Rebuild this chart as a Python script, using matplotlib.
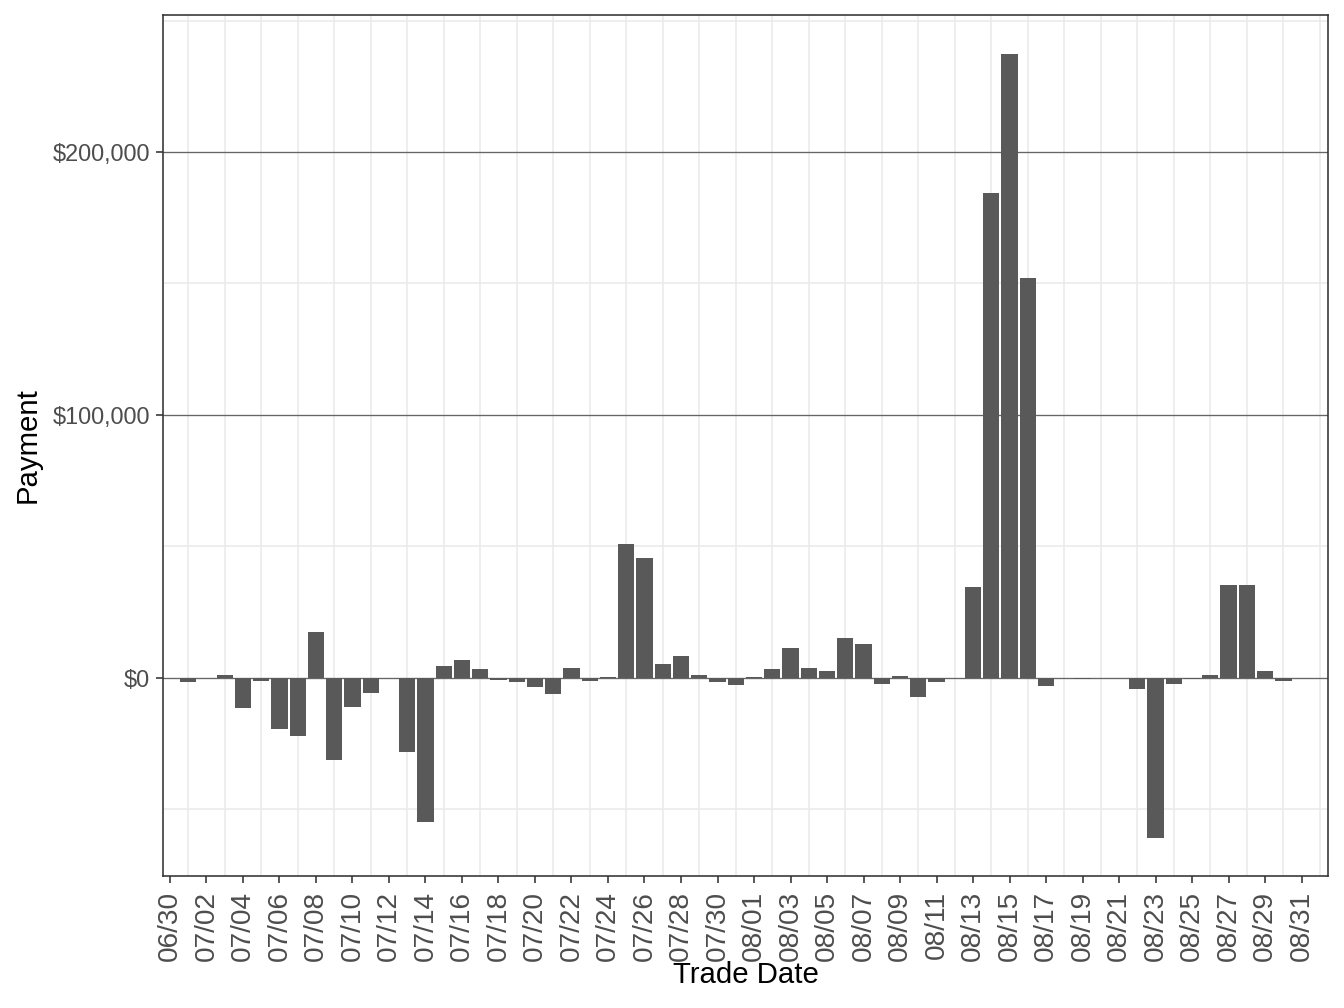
import numpy as np
import pandas as pd
import matplotlib
matplotlib.use('Agg')
import matplotlib.pyplot as plt
import matplotlib.dates as mdates
from matplotlib.ticker import FuncFormatter, FixedLocator

plt.rcParams['font.family'] = ['Liberation Sans', 'DejaVu Sans']

# daily payment values, 07/01 .. 08/31
trade_dates = pd.date_range("2019-07-01", "2019-08-31", freq="D")
payments = [
    -1650, 0, 1270, -11500, -1270, -19500, -22200, 17600, -31300, -11200,
    -5800, -200, -28300, -54900, 4700, 7000, 3550, -900, -1650, -3550,
    -6200, 3930, -1000, 200, 50950, 45600, 5300, 8400, 1140, -1520,
    -2660, 500, 3420, 11400, 3800, 2660, 15200, 12900, -2150, 760,
    -7100, -1400, 0, 34600, 184400, 237300, 152100, -3040, 0, -300,
    0, 0, -4050, -60700, -2150, -300, 1140, 35400, 35400, 2660,
    -1000, -200,
]
y_major = [0, 100000, 200000]
y_minor = [-50000, 50000, 150000, 250000]

start = pd.Timestamp("2019-06-30")
tick_dates = pd.date_range(start, "2019-08-31", freq="2D")
grid_dates = pd.date_range("2019-07-01", "2019-09-01", freq="2D")

fig = plt.figure(figsize=(7, 5.25), dpi=192)
ax = fig.add_axes([0.1213, 0.131, 0.8668, 0.8541])

x = mdates.date2num(trade_dates)
for g in mdates.date2num(grid_dates):
    ax.axvline(g, color='#EBEBEB', lw=0.6, zorder=0)
for m in y_minor:
    ax.axhline(m, color='#EBEBEB', lw=0.6, zorder=0)
for m in y_major:
    ax.axhline(m, color='#666666', lw=0.5, zorder=1)

ax.bar(x, payments, width=0.9, color='#595959', zorder=2)

x0 = mdates.date2num(start)
ax.set_xlim(x0 - 0.38, x0 + 63.45)
ax.set_ylim(-75285, 252091)

ax.xaxis.set_major_locator(FixedLocator(mdates.date2num(tick_dates)))
ax.xaxis.set_major_formatter(mdates.DateFormatter('%m/%d'))
ax.yaxis.set_major_locator(FixedLocator(y_major))
ax.yaxis.set_major_formatter(FuncFormatter(lambda v, p: f"${v:,.0f}"))

ax.tick_params(axis='x', labelrotation=90, labelsize=10.5, labelcolor='#4D4D4D',
               color='#333333', length=2.75, width=0.6, pad=2.8)
ax.tick_params(axis='y', labelsize=8.8, labelcolor='#4D4D4D',
               color='#333333', length=2.75, width=0.6, pad=2.2)

for s in ax.spines.values():
    s.set_color('#333333')
    s.set_linewidth(0.6)

ax.set_xlabel("Trade Date", fontsize=11, color='black', labelpad=0)
ax.set_ylabel("Payment", fontsize=11, color='black', labelpad=4)

fig.savefig("out.png", dpi=192, facecolor='white')
